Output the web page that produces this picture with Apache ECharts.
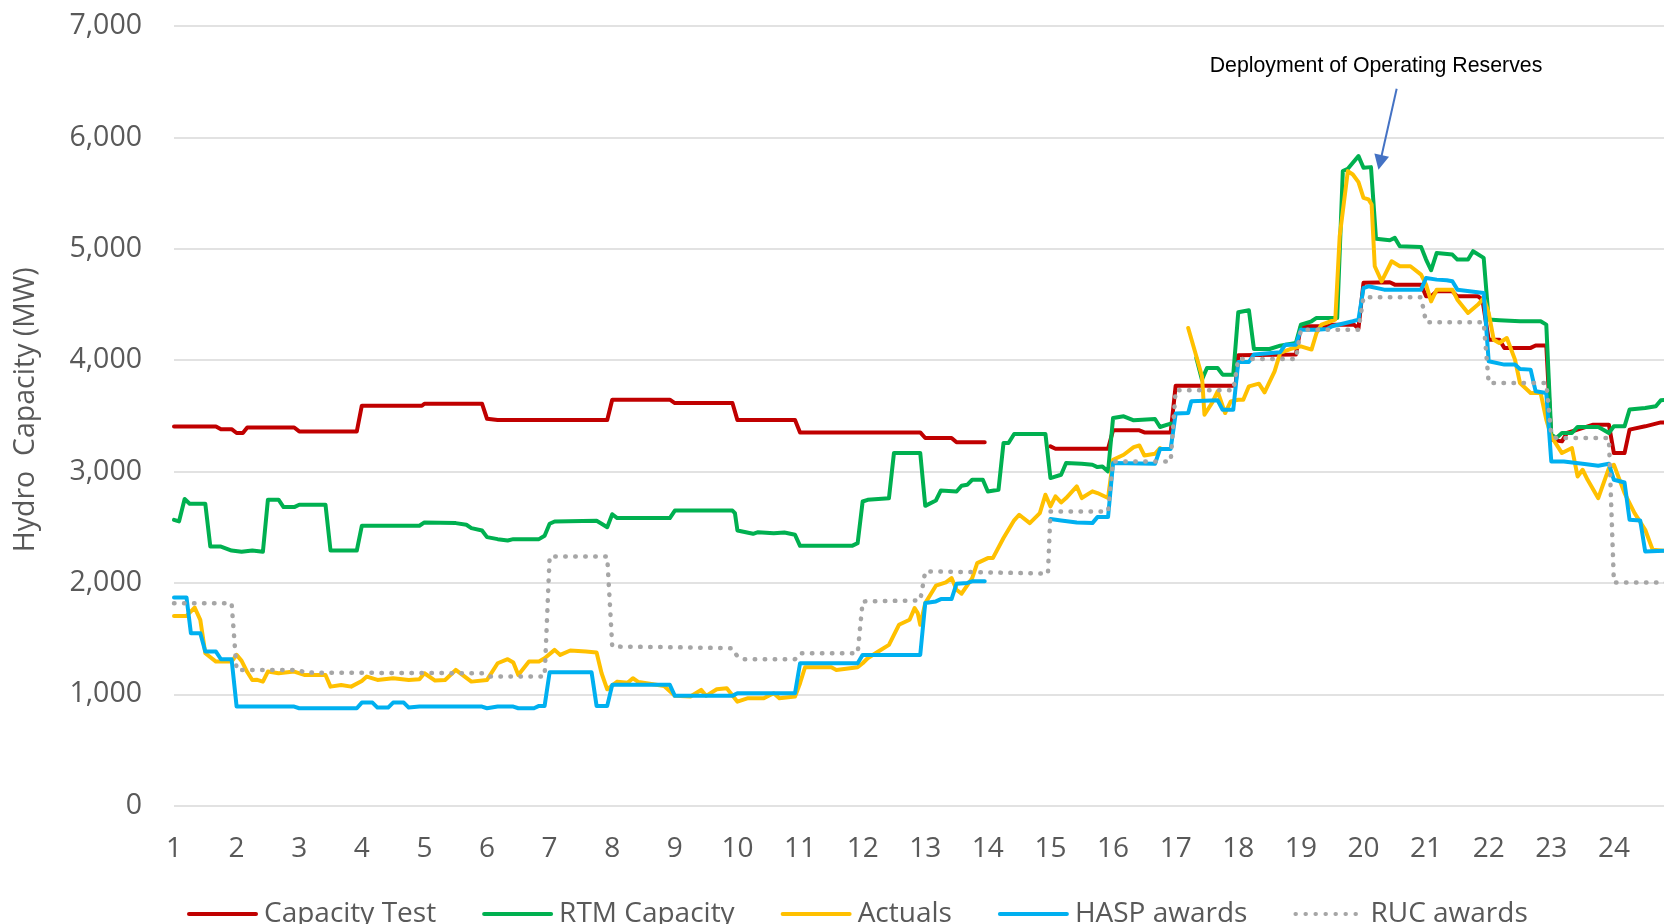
<!DOCTYPE html>
<html>
<head>
<meta charset="utf-8">
<title>Hydro Capacity</title>
<script src="https://cdn.jsdelivr.net/npm/echarts@6/dist/echarts.min.js"></script>
<style>
  html, body { margin: 0; padding: 0; background: #fff; }
  #main { width: 1664px; height: 924px; }
</style>
</head>
<body>
<div id="main"></div>
<script>
// hour of day (1 = first hour, 5-minute steps), MW values; null = no data
var capTestHour = [1.00, 1.67, 1.75, 1.92, 2.00, 2.10, 2.17, 2.92, 3.00, 3.92, 4.00, 4.96, 5.00, 5.92, 6.00, 6.17, 7.92, 8.00, 8.92, 9.00, 9.92, 10.00, 10.92, 11.00, 12.92, 13.00, 13.42, 13.50, 13.95,
  14.50,
  15.00, 15.08, 15.92, 16.00, 16.42, 16.50, 16.92, 17.00, 17.92, 17.96, 18.00, 18.92, 19.00, 19.42, 19.50, 19.85, 19.92, 20.00, 20.42, 20.50, 20.92, 21.00, 21.08, 21.17, 21.42, 21.50, 21.83, 21.90, 22.00, 22.17, 22.25, 22.67, 22.75, 22.92, 23.00, 23.17, 23.25, 23.42, 23.67, 23.92, 24.00, 24.17, 24.25, 24.50, 24.75, 24.92];
var capTestMW = [3405, 3405, 3380, 3380, 3346, 3346, 3395, 3395, 3360, 3360, 3591, 3591, 3609, 3609, 3474, 3462, 3462, 3645, 3645, 3615, 3615, 3462, 3462, 3351, 3351, 3301, 3301, 3262, 3262,
  null,
  3226, 3205, 3205, 3370, 3370, 3351, 3351, 3771, 3771, 3795, 4045, 4050, 4304, 4304, 4318, 4318, 4285, 4694, 4700, 4678, 4678, 4573, 4573, 4618, 4618, 4573, 4573, 4543, 4184, 4184, 4110, 4110, 4132, 4132, 3286, 3271, 3346, 3376, 3421, 3421, 3166, 3166, 3376, 3406, 3441, 3441];

var rtmHour = [1.00, 1.08, 1.17, 1.25, 1.50, 1.58, 1.75, 1.92, 2.08, 2.25, 2.42, 2.50, 2.67, 2.75, 2.92, 3.00, 3.42, 3.50, 3.92, 4.00, 4.92, 5.00, 5.50, 5.67, 5.75, 5.92, 6.00, 6.17, 6.33, 6.42, 6.83, 6.92, 7.00, 7.08, 7.75, 7.83, 7.92, 8.00, 8.08, 8.92, 9.00, 9.92, 9.96, 10.00, 10.25, 10.33, 10.58, 10.75, 10.92, 11.00, 11.83, 11.92, 12.00, 12.08, 12.42, 12.50, 12.92, 13.00, 13.17, 13.25, 13.50, 13.58, 13.67, 13.75, 13.92, 14.00, 14.17, 14.25, 14.33, 14.42, 14.92, 15.00, 15.17, 15.25, 15.50, 15.67, 15.75, 15.83, 15.92, 16.00, 16.17, 16.33, 16.67, 16.75, 16.92,
  17.10,
  17.33, 17.42, 17.50, 17.67, 17.75, 17.92, 18.00, 18.17, 18.25, 18.50, 18.67, 18.92, 19.00, 19.17, 19.25, 19.58, 19.67, 19.75, 19.83, 19.92, 20.00, 20.12, 20.20, 20.42, 20.50, 20.58, 20.92, 21.00, 21.08, 21.17, 21.42, 21.50, 21.67, 21.75, 21.92, 22.00, 22.17, 22.50, 22.83, 22.92, 23.00, 23.08, 23.17, 23.33, 23.42, 23.75, 23.83, 23.92, 24.00, 24.17, 24.25, 24.50, 24.67, 24.75, 24.92];
var rtmMW = [2567, 2552, 2753, 2711, 2711, 2327, 2327, 2291, 2279, 2291, 2279, 2747, 2747, 2681, 2681, 2702, 2702, 2291, 2291, 2513, 2513, 2543, 2537, 2522, 2492, 2471, 2411, 2393, 2381, 2393, 2393, 2423, 2531, 2552, 2558, 2531, 2500, 2617, 2582, 2582, 2650, 2650, 2627, 2471, 2441, 2456, 2447, 2453, 2432, 2333, 2333, 2357, 2731, 2746, 2761, 3166, 3166, 2692, 2740, 2830, 2821, 2872, 2881, 2926, 2926, 2821, 2836, 3256, 3256, 3337, 3337, 2941, 2971, 3076, 3070, 3061, 3040, 3046, 3001, 3481, 3496, 3460, 3472, 3400, 3430,
  null,
  4020, 3825, 3930, 3930, 3870, 3870, 4430, 4448, 4100, 4100, 4130, 4154, 4318, 4349, 4379, 4379, 5697, 5718, 5772, 5832, 5727, 5733, 5090, 5077, 5098, 5023, 5017, 4903, 4807, 4963, 4948, 4903, 4903, 4978, 4918, 4364, 4358, 4349, 4349, 4319, 3331, 3301, 3346, 3346, 3400, 3400, 3376, 3346, 3406, 3406, 3556, 3571, 3586, 3640, 3650];

var actualHour = [1.00, 1.20, 1.33, 1.42, 1.50, 1.67, 1.92, 2.00, 2.08, 2.17, 2.25, 2.33, 2.42, 2.50, 2.67, 2.92, 3.08, 3.42, 3.50, 3.67, 3.83, 4.00, 4.08, 4.25, 4.50, 4.75, 4.92, 5.00, 5.17, 5.33, 5.50, 5.75, 6.00, 6.17, 6.33, 6.42, 6.50, 6.67, 6.83, 6.92, 7.08, 7.17, 7.33, 7.58, 7.75, 7.83, 7.92, 8.08, 8.25, 8.33, 8.42, 8.83, 9.00, 9.25, 9.42, 9.50, 9.67, 9.83, 10.00, 10.17, 10.42, 10.58, 10.67, 10.92, 11.00, 11.08, 11.50, 11.58, 11.92, 12.00, 12.08, 12.25, 12.42, 12.50, 12.58, 12.75, 12.83, 12.88, 12.92, 13.00, 13.17, 13.33, 13.42, 13.50, 13.58, 13.75, 13.83, 14.00, 14.08, 14.25, 14.42, 14.50, 14.67, 14.83, 14.92, 15.00, 15.08, 15.17, 15.25, 15.42, 15.50, 15.67, 15.75, 15.92, 16.00, 16.17, 16.33, 16.42, 16.50, 16.67, 16.75,
  17.00,
  17.20, 17.33, 17.42, 17.46, 17.58, 17.67, 17.79, 17.88, 18.00, 18.08, 18.17, 18.33, 18.42, 18.58, 18.67, 18.83, 19.00, 19.17, 19.25, 19.33, 19.55, 19.62, 19.75, 19.83, 19.92, 20.00, 20.08, 20.13, 20.18, 20.29, 20.45, 20.58, 20.75, 20.92, 21.00, 21.08, 21.17, 21.42, 21.50, 21.67, 21.83, 21.92, 22.00, 22.08, 22.17, 22.29, 22.42, 22.50, 22.67, 22.83, 22.92, 23.00, 23.17, 23.33, 23.42, 23.50, 23.58, 23.75, 23.92, 24.00, 24.17, 24.33, 24.50, 24.62, 24.92];
var actualMW = [1704, 1704, 1779, 1668, 1369, 1294, 1294, 1354, 1300, 1200, 1129, 1130, 1114, 1204, 1189, 1204, 1174, 1174, 1069, 1084, 1069, 1120, 1159, 1129, 1144, 1129, 1135, 1189, 1123, 1129, 1219, 1114, 1129, 1279, 1315, 1285, 1174, 1294, 1294, 1324, 1399, 1354, 1393, 1384, 1375, 1189, 1045, 1114, 1105, 1144, 1110, 1075, 986, 980, 1040, 986, 1045, 1054, 934, 965, 965, 1010, 965, 980, 1100, 1243, 1243, 1219, 1243, 1279, 1324, 1384, 1444, 1534, 1624, 1669, 1774, 1729, 1624, 1819, 1975, 2005, 2044, 1939, 1903, 2044, 2178, 2223, 2223, 2403, 2562, 2612, 2537, 2627, 2792, 2687, 2777, 2723, 2762, 2867, 2762, 2822, 2807, 2762, 3106, 3151, 3219, 3234, 3144, 3160, 3211,
  null,
  4289, 4035, 3855, 3510, 3615, 3720, 3525, 3630, 3645, 3645, 3765, 3789, 3711, 3900, 4065, 4100, 4124, 4095, 4244, 4319, 4364, 5113, 5697, 5667, 5598, 5457, 5443, 5398, 4843, 4708, 4888, 4843, 4843, 4768, 4678, 4528, 4633, 4633, 4543, 4424, 4499, 4558, 4424, 4184, 4154, 4199, 4005, 3795, 3705, 3705, 3466, 3316, 3166, 3211, 2956, 3016, 2926, 2761, 3031, 3061, 2806, 2627, 2477, 2297, 2282];

var haspHour = [1.00, 1.20, 1.27, 1.42, 1.50, 1.67, 1.75, 1.92, 2.00, 2.92, 3.00, 3.92, 4.00, 4.17, 4.25, 4.42, 4.50, 4.67, 4.75, 4.92, 5.92, 6.00, 6.17, 6.42, 6.50, 6.75, 6.83, 6.92, 7.00, 7.67, 7.75, 7.92, 8.00, 8.92, 9.00, 9.92, 10.00, 10.92, 11.00, 11.92, 12.00, 12.92, 13.00, 13.17, 13.25, 13.42, 13.50, 13.67, 13.75, 13.95,
  14.50,
  15.00, 15.17, 15.42, 15.67, 15.75, 15.92, 16.00, 16.67, 16.75, 16.92, 17.00, 17.20, 17.25, 17.67, 17.75, 17.92, 18.00, 18.17, 18.25, 18.67, 18.75, 18.92, 19.00, 19.25, 19.42, 19.50, 19.83, 19.92, 20.00, 20.08, 20.33, 20.92, 21.00, 21.17, 21.33, 21.42, 21.50, 21.92, 22.00, 22.25, 22.42, 22.50, 22.67, 22.75, 22.92, 23.00, 23.20, 23.50, 23.75, 23.92, 24.00, 24.17, 24.25, 24.42, 24.50, 24.92];
var haspMW = [1869, 1869, 1549, 1549, 1384, 1384, 1315, 1315, 890, 890, 875, 875, 926, 926, 881, 881, 926, 926, 881, 890, 890, 875, 890, 890, 875, 875, 896, 896, 1198, 1198, 896, 896, 1085, 1085, 986, 986, 1010, 1010, 1279, 1279, 1354, 1354, 1819, 1834, 1855, 1855, 1993, 2000, 2014, 2014,
  null,
  2573, 2561, 2543, 2537, 2591, 2591, 3076, 3070, 3202, 3202, 3520, 3525, 3631, 3640, 3555, 3555, 3984, 3984, 4050, 4071, 4139, 4139, 4274, 4274, 4280, 4304, 4349, 4364, 4648, 4663, 4633, 4633, 4738, 4723, 4717, 4708, 4633, 4603, 3990, 3960, 3960, 3921, 3915, 3720, 3705, 3091, 3091, 3070, 3052, 3070, 2926, 2902, 2567, 2561, 2282, 2291];

var rucHour = [1.00, 1.92, 2.00, 3.00, 3.08, 5.92, 6.00, 6.92, 7.00, 7.92, 8.00, 8.92, 9.92, 10.00, 10.08, 10.92, 11.00, 11.92, 12.00, 12.92, 13.00, 14.00, 14.96, 15.00, 15.92, 16.00, 16.92, 17.00, 17.92, 18.00, 18.92, 19.00, 19.92, 20.00, 20.92, 21.00, 21.92, 22.00, 22.92, 23.00, 23.08, 23.92, 24.00, 24.92];
var rucMW = [1818, 1818, 1219, 1219, 1195, 1189, 1159, 1159, 2237, 2237, 1429, 1423, 1414, 1339, 1315, 1315, 1369, 1369, 1834, 1843, 2104, 2095, 2083, 2642, 2642, 3091, 3091, 3729, 3729, 4011, 4011, 4274, 4274, 4564, 4564, 4340, 4340, 3795, 3795, 3330, 3301, 3301, 2004, 2004];

// annotation
var noteText = 'Deployment of Operating Reserves';
var notePos = [20.20, 6637];
var arrowFrom = [20.53, 6437];
var arrowTo = [20.265, 5775];

function pairs(hours, values) {
  var out = [];
  for (var i = 0; i < hours.length; i++) {
    out.push([hours[i], values[i] === null ? '-' : values[i]]);
  }
  return out;
}

var chart = echarts.init(document.getElementById('main'));

var greyText = '#595959';
var axisFont = 'Open Sans';

function lineSeries(name, color, data, extra) {
  var s = {
    name: name,
    type: 'line',
    data: data,
    symbol: 'none',
    smooth: false,
    connectNulls: false,
    lineStyle: { color: color, width: 4, join: 'round', cap: 'round' },
    itemStyle: { color: color },
    emphasis: { disabled: true }
  };
  if (extra) {
    for (var k in extra) s[k] = extra[k];
  }
  return s;
}

var option = {
  animation: false,
  backgroundColor: '#ffffff',
  grid: {
    left: 174,
    right: -12.5,
    top: 26,
    bottom: 118.3,
    containLabel: false,
    outerBoundsMode: 'none'
  },
  legend: {
    left: 182,
    top: 893,
    itemWidth: 67,
    itemHeight: 14,
    itemGap: 46,
    itemStyle: { opacity: 0 },
    lineStyle: { width: 4 },
    textStyle: { fontFamily: axisFont, fontSize: 28, color: greyText, lineHeight: 32, padding: [0, 0, 0, 3] },
    data: ['Capacity Test', 'RTM Capacity', 'Actuals', 'HASP awards', 'RUC awards']
  },
  xAxis: {
    type: 'value',
    min: 1,
    max: 25,
    interval: 1,
    axisLine: { show: false },
    axisTick: { show: false },
    splitLine: { show: false },
    axisLabel: {
      color: greyText,
      fontFamily: axisFont,
      fontSize: 28,
      margin: 29,
      showMaxLabel: false
    }
  },
  yAxis: {
    type: 'value',
    min: 0,
    max: 7000,
    interval: 1000,
    name: 'Hydro  Capacity (MW)',
    nameLocation: 'middle',
    nameGap: 134,
    nameTextStyle: { color: greyText, fontFamily: axisFont, fontSize: 28.5, padding: [0, 0, 0, 12] },
    axisLine: { show: false },
    axisTick: { show: false },
    splitLine: { lineStyle: { color: '#d9d9d9', width: 1.5 } },
    axisLabel: {
      color: greyText,
      fontFamily: axisFont,
      fontSize: 28.5,
      margin: 32,
      formatter: function (v) { return v.toLocaleString('en-US'); }
    }
  },
  series: [
    lineSeries('Capacity Test', '#c00000', pairs(capTestHour, capTestMW), {
      markPoint: {
        silent: true,
        symbol: 'circle',
        symbolSize: 0,
        label: {
          show: true,
          position: 'inside',
          formatter: noteText,
          color: '#000000',
          fontFamily: 'Liberation Sans',
          fontSize: 21.3
        },
        data: [{ coord: notePos }]
      },
      markLine: {
        silent: true,
        symbol: ['none', 'triangle'],
        symbolSize: 15,
        label: { show: false },
        lineStyle: { color: '#4472c4', width: 2, type: 'solid' },
        data: [[{ coord: arrowFrom }, { coord: arrowTo }]]
      }
    }),
    lineSeries('RTM Capacity', '#00b050', pairs(rtmHour, rtmMW)),
    lineSeries('Actuals', '#ffc000', pairs(actualHour, actualMW)),
    lineSeries('HASP awards', '#00b0f0', pairs(haspHour, haspMW)),
    {
      name: 'RUC awards',
      type: 'line',
      data: pairs(rucHour, rucMW),
      symbol: 'none',
      lineStyle: { color: '#a6a6a6', width: 4.5, type: [0.5, 9.5], cap: 'round' },
      itemStyle: { color: '#a6a6a6' },
      emphasis: { disabled: true }
    }
  ]
};

chart.setOption(option);
</script>
</body>
</html>
